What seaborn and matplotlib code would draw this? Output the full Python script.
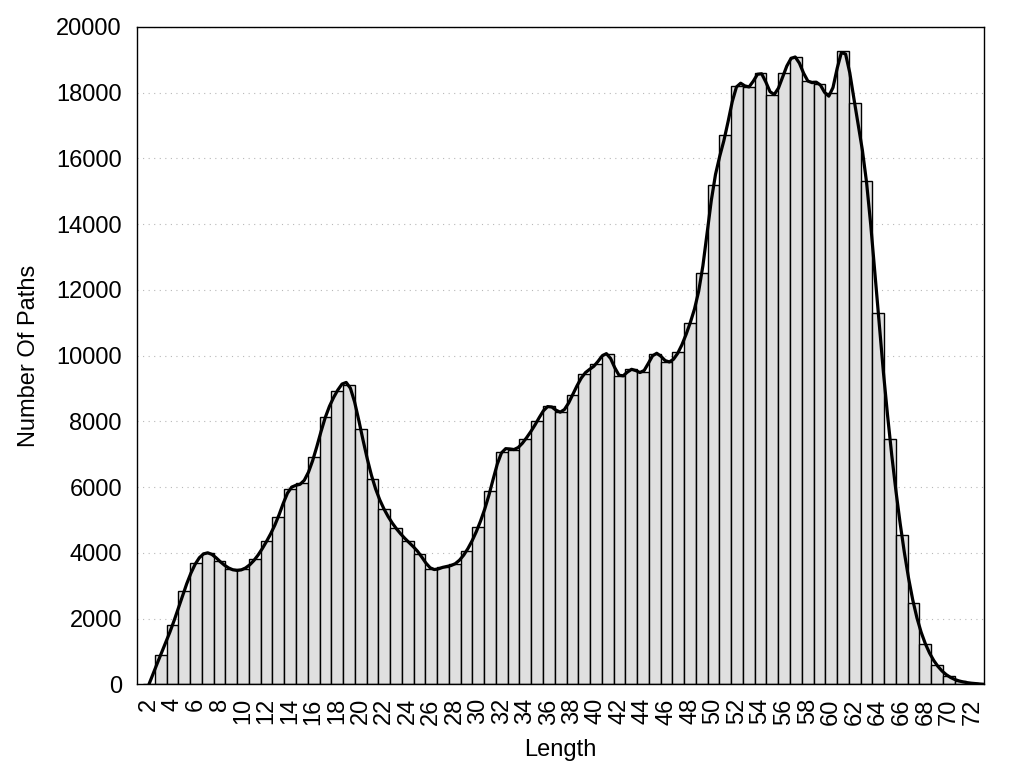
import matplotlib
matplotlib.use("Agg")
import matplotlib.pyplot as plt
import numpy as np
import seaborn as sns

# path length histogram
lengths = np.arange(2, 74)
counts = [
    0, 900, 1800, 2850, 3700, 4000, 3750, 3500, 3500, 3800,
    4350, 5100, 5950, 6120, 6900, 8130, 8920, 9100, 7760, 6250,
    5320, 4750, 4350, 3970, 3520, 3560, 3660, 4060, 4790, 5880,
    7060, 7140, 7450, 8000, 8460, 8280, 8790, 9440, 9740, 10040,
    9390, 9580, 9510, 10060, 9820, 10100, 10980, 12500, 15180, 16720,
    18210, 18170, 18600, 17940, 18600, 19070, 18360, 18270, 17980, 19280,
    17670, 15300, 11290, 7470, 4550, 2460, 1240, 580, 240, 90,
    30, 0,
]
y_ticks = list(range(0, 20001, 2000))
x_labels = list(range(2, 73, 2))


def natural_spline(x, y, xs):
    """Natural cubic spline through (x, y), evaluated at xs."""
    x = np.asarray(x, float)
    y = np.asarray(y, float)
    n = len(x)
    h = np.diff(x)
    A = np.zeros((n, n))
    b = np.zeros(n)
    A[0, 0] = A[-1, -1] = 1.0
    for i in range(1, n - 1):
        A[i, i - 1] = h[i - 1]
        A[i, i] = 2 * (h[i - 1] + h[i])
        A[i, i + 1] = h[i]
        b[i] = 6 * ((y[i + 1] - y[i]) / h[i] - (y[i] - y[i - 1]) / h[i - 1])
    m = np.linalg.solve(A, b)
    idx = np.clip(np.searchsorted(x, xs) - 1, 0, n - 2)
    t0 = xs - x[idx]
    t1 = x[idx + 1] - xs
    hi = h[idx]
    return (m[idx] * t1**3 / (6 * hi) + m[idx + 1] * t0**3 / (6 * hi)
            + (y[idx] / hi - m[idx] * hi / 6) * t1
            + (y[idx + 1] / hi - m[idx + 1] * hi / 6) * t0)


sns.set_style("white")
plt.rcParams["font.family"] = ["Liberation Sans", "DejaVu Sans"]
plt.rcParams["font.size"] = 17
plt.rcParams["text.color"] = "black"
plt.rcParams["axes.labelcolor"] = "black"

fig = plt.figure(figsize=(10.24, 7.68), dpi=100)
ax = fig.add_axes([0.134, 0.109, 0.827, 0.856])
ax.set_axisbelow(True)

sns.barplot(x=lengths, y=counts, native_scale=True, width=1.0,
            color="#e0e0e0", saturation=1, edgecolor="black",
            linewidth=1.0, ax=ax)

# smooth curve through the bar tops (like gnuplot's csplines)
xs = np.linspace(lengths[0], lengths[-1], 200)
sns.lineplot(x=xs, y=natural_spline(lengths, counts, xs), color="black",
             linewidth=2.3, ax=ax)

ax.set_xlim(1, 73)
ax.set_ylim(0, 20000)
ax.set_yticks(y_ticks)
ax.set_yticklabels([str(v) for v in y_ticks])
ax.set_xticks(x_labels)
ax.set_xticklabels([str(v) for v in x_labels], rotation=90)
ax.set_xticks(lengths[1:-1:2], minor=True)

ax.tick_params(axis="both", which="both", direction="in", colors="black",
               labelcolor="black", labelsize=17, width=1.0)
ax.tick_params(axis="y", length=11, pad=11)
ax.tick_params(axis="x", which="both", length=10, pad=10)

ax.grid(axis="y", color="#b8b8b8", linestyle=(0, (1, 4)), linewidth=0.8)
ax.grid(axis="x", visible=False)
for s in ax.spines.values():
    s.set_color("black")
    s.set_linewidth(1.0)

ax.set_xlabel("Length", fontsize=17, labelpad=10)
ax.set_ylabel("Number Of Paths", fontsize=17, labelpad=12)

fig.savefig("out.png", dpi=100)
plt.close(fig)
